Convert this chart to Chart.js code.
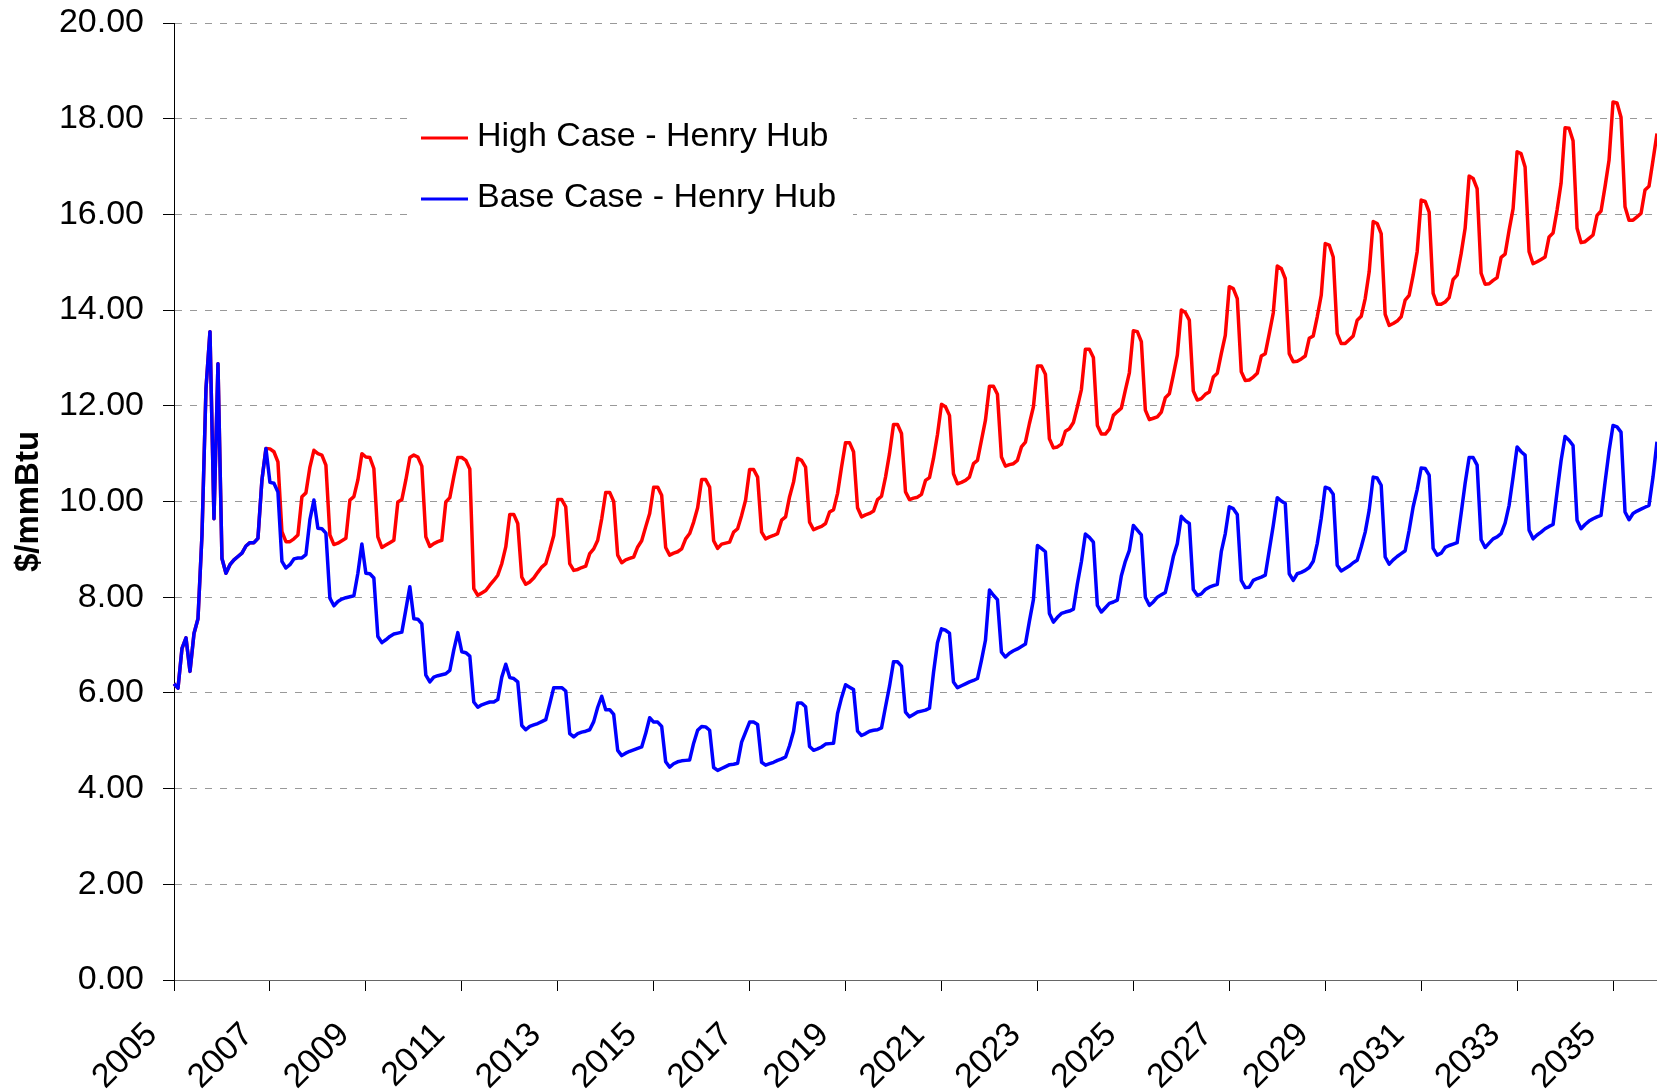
<!DOCTYPE html>
<html>
<head>
<meta charset="utf-8">
<title>Henry Hub price forecast</title>
<script src="https://cdn.jsdelivr.net/npm/chart.js@4.4.1/dist/chart.umd.min.js"></script>
<style>
  html, body { margin: 0; padding: 0; background: #fff; }
  canvas { display: block; }
</style>
</head>
<body>
<canvas id="chart" width="1657" height="1092"></canvas>
<script>
// monthly prices in $/mmBtu, Jan 2005 .. Dec 2035 (one row per year)
const highCase = [
  6.19, 6.10, 6.93, 7.15, 6.45, 7.24, 7.55, 9.30, 12.36, 13.55, 9.64, 12.88,
  8.81, 8.50, 8.68, 8.78, 8.85, 8.92, 9.07, 9.14, 9.14, 9.23, 10.45, 11.11,
  11.10, 11.04, 10.83, 9.37, 9.16, 9.16, 9.22, 9.30, 10.10, 10.18, 10.72, 11.07,
  11.00, 10.97, 10.76, 9.30, 9.10, 9.13, 9.18, 9.23, 10.03, 10.10, 10.45, 11.00,
  10.93, 10.92, 10.69, 9.26, 9.04, 9.09, 9.14, 9.19, 9.99, 10.04, 10.45, 10.92,
  10.97, 10.93, 10.74, 9.26, 9.06, 9.12, 9.16, 9.19, 9.99, 10.08, 10.52, 10.92,
  10.92, 10.86, 10.68, 8.18, 8.04, 8.09, 8.14, 8.25, 8.35, 8.46, 8.70, 9.05,
  9.73, 9.73, 9.54, 8.42, 8.27, 8.32, 8.40, 8.52, 8.63, 8.70, 8.98, 9.29,
  10.04, 10.04, 9.89, 8.70, 8.56, 8.58, 8.62, 8.65, 8.91, 9.01, 9.19, 9.64,
  10.19, 10.19, 10.00, 8.88, 8.72, 8.78, 8.81, 8.84, 9.05, 9.18, 9.47, 9.75,
  10.30, 10.30, 10.13, 9.04, 8.88, 8.92, 8.95, 9.01, 9.22, 9.33, 9.57, 9.87,
  10.46, 10.46, 10.30, 9.18, 9.02, 9.11, 9.13, 9.15, 9.36, 9.43, 9.71, 10.03,
  10.67, 10.67, 10.51, 9.36, 9.22, 9.26, 9.29, 9.33, 9.61, 9.68, 10.10, 10.41,
  10.90, 10.86, 10.72, 9.57, 9.41, 9.45, 9.48, 9.54, 9.78, 9.83, 10.17, 10.72,
  11.23, 11.23, 11.04, 9.87, 9.68, 9.72, 9.75, 9.80, 10.04, 10.11, 10.51, 11.00,
  11.61, 11.61, 11.42, 10.20, 10.04, 10.07, 10.09, 10.15, 10.44, 10.50, 10.90, 11.40,
  12.03, 11.98, 11.80, 10.58, 10.37, 10.40, 10.44, 10.51, 10.79, 10.86, 11.28, 11.70,
  12.41, 12.41, 12.24, 10.93, 10.74, 10.77, 10.79, 10.86, 11.14, 11.24, 11.63, 11.98,
  12.83, 12.83, 12.66, 11.31, 11.12, 11.14, 11.20, 11.47, 11.52, 11.65, 11.98, 12.34,
  13.18, 13.18, 13.01, 11.59, 11.41, 11.41, 11.51, 11.80, 11.88, 11.95, 12.33, 12.69,
  13.57, 13.55, 13.34, 11.91, 11.71, 11.74, 11.77, 11.87, 12.17, 12.25, 12.64, 13.06,
  14.00, 13.95, 13.79, 12.31, 12.12, 12.15, 12.24, 12.29, 12.60, 12.68, 13.09, 13.47,
  14.49, 14.45, 14.24, 12.71, 12.53, 12.54, 12.60, 12.68, 13.04, 13.09, 13.51, 13.94,
  14.92, 14.87, 14.66, 13.09, 12.92, 12.93, 12.98, 13.04, 13.41, 13.46, 13.86, 14.31,
  15.39, 15.36, 15.11, 13.51, 13.30, 13.30, 13.38, 13.46, 13.79, 13.87, 14.24, 14.80,
  15.85, 15.81, 15.60, 13.91, 13.68, 13.72, 13.77, 13.86, 14.21, 14.31, 14.73, 15.22,
  16.30, 16.27, 16.05, 14.35, 14.12, 14.12, 14.17, 14.26, 14.64, 14.73, 15.18, 15.71,
  16.80, 16.75, 16.54, 14.77, 14.54, 14.55, 14.62, 14.68, 15.10, 15.17, 15.67, 16.12,
  17.31, 17.27, 16.99, 15.22, 14.97, 15.01, 15.06, 15.11, 15.53, 15.61, 16.09, 16.65,
  17.81, 17.80, 17.54, 15.71, 15.41, 15.43, 15.50, 15.57, 15.98, 16.07, 16.58, 17.13,
  18.35, 18.33, 18.03, 16.16, 15.88, 15.88, 15.95, 16.02, 16.51, 16.59, 17.13, 17.69
];

const baseCase = [
  6.19, 6.10, 6.93, 7.15, 6.45, 7.24, 7.55, 9.30, 12.36, 13.55, 9.64, 12.88,
  8.81, 8.50, 8.68, 8.78, 8.85, 8.92, 9.07, 9.14, 9.14, 9.23, 10.45, 11.11,
  10.40, 10.38, 10.20, 8.75, 8.61, 8.68, 8.80, 8.82, 8.82, 8.89, 9.62, 10.03,
  9.44, 9.43, 9.34, 7.98, 7.82, 7.91, 7.96, 7.99, 8.01, 8.03, 8.50, 9.11,
  8.50, 8.49, 8.40, 7.18, 7.05, 7.11, 7.18, 7.23, 7.25, 7.27, 7.74, 8.22,
  7.55, 7.54, 7.44, 6.37, 6.23, 6.33, 6.36, 6.38, 6.40, 6.47, 6.90, 7.26,
  6.86, 6.84, 6.77, 5.81, 5.70, 5.75, 5.78, 5.81, 5.81, 5.86, 6.33, 6.60,
  6.32, 6.30, 6.23, 5.32, 5.23, 5.30, 5.33, 5.36, 5.40, 5.44, 5.77, 6.11,
  6.11, 6.11, 6.04, 5.15, 5.08, 5.15, 5.18, 5.20, 5.23, 5.40, 5.70, 5.93,
  5.65, 5.65, 5.55, 4.80, 4.69, 4.74, 4.78, 4.81, 4.84, 4.87, 5.15, 5.48,
  5.39, 5.39, 5.30, 4.56, 4.45, 4.52, 4.56, 4.58, 4.59, 4.60, 4.95, 5.22,
  5.30, 5.29, 5.22, 4.44, 4.38, 4.42, 4.46, 4.50, 4.51, 4.53, 4.97, 5.18,
  5.39, 5.39, 5.34, 4.55, 4.49, 4.52, 4.55, 4.59, 4.62, 4.66, 4.90, 5.20,
  5.79, 5.79, 5.71, 4.88, 4.80, 4.83, 4.87, 4.93, 4.94, 4.95, 5.57, 5.90,
  6.17, 6.12, 6.07, 5.20, 5.11, 5.15, 5.20, 5.22, 5.23, 5.27, 5.71, 6.14,
  6.65, 6.65, 6.56, 5.60, 5.50, 5.55, 5.60, 5.62, 5.64, 5.68, 6.42, 7.05,
  7.34, 7.31, 7.25, 6.23, 6.11, 6.15, 6.19, 6.23, 6.26, 6.30, 6.68, 7.10,
  8.15, 8.04, 7.95, 6.85, 6.75, 6.83, 6.88, 6.92, 6.97, 7.02, 7.50, 7.95,
  9.08, 9.02, 8.95, 7.66, 7.48, 7.58, 7.66, 7.69, 7.71, 7.75, 8.28, 8.74,
  9.32, 9.25, 9.15, 7.83, 7.69, 7.78, 7.87, 7.90, 7.94, 8.45, 8.75, 8.98,
  9.50, 9.40, 9.30, 8.00, 7.83, 7.90, 8.00, 8.05, 8.10, 8.45, 8.85, 9.12,
  9.69, 9.60, 9.54, 8.16, 8.04, 8.07, 8.16, 8.21, 8.24, 8.27, 8.95, 9.33,
  9.89, 9.85, 9.73, 8.35, 8.20, 8.21, 8.35, 8.39, 8.42, 8.46, 8.98, 9.50,
  10.08, 10.01, 9.96, 8.49, 8.35, 8.49, 8.52, 8.56, 8.62, 8.75, 9.12, 9.65,
  10.30, 10.27, 10.15, 8.67, 8.55, 8.60, 8.65, 8.72, 8.77, 9.05, 9.36, 9.82,
  10.51, 10.49, 10.34, 8.84, 8.69, 8.78, 8.85, 8.91, 8.97, 9.40, 9.89, 10.25,
  10.70, 10.69, 10.55, 9.02, 8.88, 8.92, 9.04, 9.08, 9.11, 9.14, 9.75, 10.38,
  10.92, 10.92, 10.76, 9.20, 9.04, 9.13, 9.22, 9.26, 9.33, 9.55, 9.92, 10.51,
  11.14, 11.04, 10.97, 9.40, 9.22, 9.30, 9.36, 9.43, 9.48, 9.52, 10.20, 10.85,
  11.36, 11.28, 11.17, 9.61, 9.43, 9.52, 9.59, 9.64, 9.68, 9.71, 10.40, 11.05,
  11.59, 11.56, 11.45, 9.78, 9.62, 9.75, 9.80, 9.84, 9.88, 9.92, 10.51, 11.25
];

const tickYears = ['2005', '2007', '2009', '2011', '2013', '2015', '2017', '2019',
                   '2021', '2023', '2025', '2027', '2029', '2031', '2033', '2035'];
const yTickValues = [0, 2, 4, 6, 8, 10, 12, 14, 16, 18, 20];

// month categories "2005-01" .. "2035-12"
const months = [];
for (let y = 2005; y <= 2035; y++) {
  for (let m = 1; m <= 12; m++) months.push(y + '-' + String(m).padStart(2, '0'));
}

const FONT = "'Liberation Sans', Arial, sans-serif";

// legend drawn inside the plot, on a white box
const insideLegend = {
  id: 'insideLegend',
  afterDraw(chart) {
    const ctx = chart.ctx;
    ctx.save();
    ctx.fillStyle = '#fff';
    ctx.fillRect(410, 100, 443, 128);
    ctx.font = '34px ' + FONT;
    ctx.textBaseline = 'middle';
    ctx.textAlign = 'left';
    chart.data.datasets.forEach((ds, i) => {
      const y = 138 + i * 61;
      ctx.strokeStyle = ds.borderColor;
      ctx.lineWidth = 3;
      ctx.beginPath();
      ctx.moveTo(421, y);
      ctx.lineTo(468, y);
      ctx.stroke();
      ctx.fillStyle = '#000';
      ctx.fillText(ds.label, 477, y - 1);
    });
    ctx.restore();
  }
};

new Chart(document.getElementById('chart'), {
  type: 'line',
  data: {
    labels: months,
    datasets: [
      {
        label: 'High Case - Henry Hub',
        data: highCase,
        borderColor: '#ff0000',
        borderWidth: 3.5,
        pointRadius: 0,
        tension: 0,
        borderJoinStyle: 'round',
        order: 1
      },
      {
        label: 'Base Case - Henry Hub',
        data: baseCase,
        borderColor: '#0000ff',
        borderWidth: 3.5,
        pointRadius: 0,
        tension: 0,
        borderJoinStyle: 'round',
        order: 0
      }
    ]
  },
  options: {
    responsive: false,
    devicePixelRatio: 1,
    animation: false,
    layout: { padding: { top: 23, right: 0, bottom: 0, left: 0 } },
    plugins: {
      legend: { display: false },
      tooltip: { enabled: false }
    },
    scales: {
      x: {
        type: 'category',
        offset: false,
        grid: {
          display: true,
          drawOnChartArea: false,
          drawTicks: true,
          tickLength: 11,
          tickColor: '#000',
          tickWidth: 1,
          offset: false
        },
        border: { display: true, color: '#666', width: 1 },
        ticks: {
          autoSkip: false,
          minRotation: 45,
          maxRotation: 45,
          padding: 24,
          labelOffset: -22,
          color: '#000',
          font: { family: FONT, size: 34 },
          callback: function (value) { return this.getLabelForValue(value).slice(0, 4); }
        },
        afterBuildTicks(scale) {
          scale.ticks = scale.ticks.filter(t => {
            const lab = months[t.value];
            return lab.endsWith('-01') && tickYears.includes(lab.slice(0, 4));
          });
        },
        afterFit(scale) {
          scale.height = 112;
          scale.paddingLeft = 0;
          scale.paddingRight = 0;
        }
      },
      y: {
        min: 0,
        max: 20,
        grid: {
          color: '#999',
          lineWidth: 1,
          drawTicks: true,
          tickLength: 11,
          tickColor: '#000'
        },
        border: { display: true, color: '#000', width: 1, dash: [7, 8] },
        ticks: {
          padding: 19,
          color: '#000',
          font: { family: FONT, size: 34 },
          callback: v => v.toFixed(2)
        },
        afterBuildTicks(scale) {
          scale.ticks = yTickValues.map(v => ({ value: v }));
        },
        title: {
          display: true,
          text: '$/mmBtu',
          color: '#000',
          font: { family: FONT, size: 33, weight: 'bold' },
          padding: { top: 9, bottom: 0 }
        },
        afterFit(scale) {
          scale.width = 174;
          scale.paddingTop = 0;
          scale.paddingBottom = 0;
        }
      }
    }
  },
  plugins: [insideLegend]
});
</script>
</body>
</html>
